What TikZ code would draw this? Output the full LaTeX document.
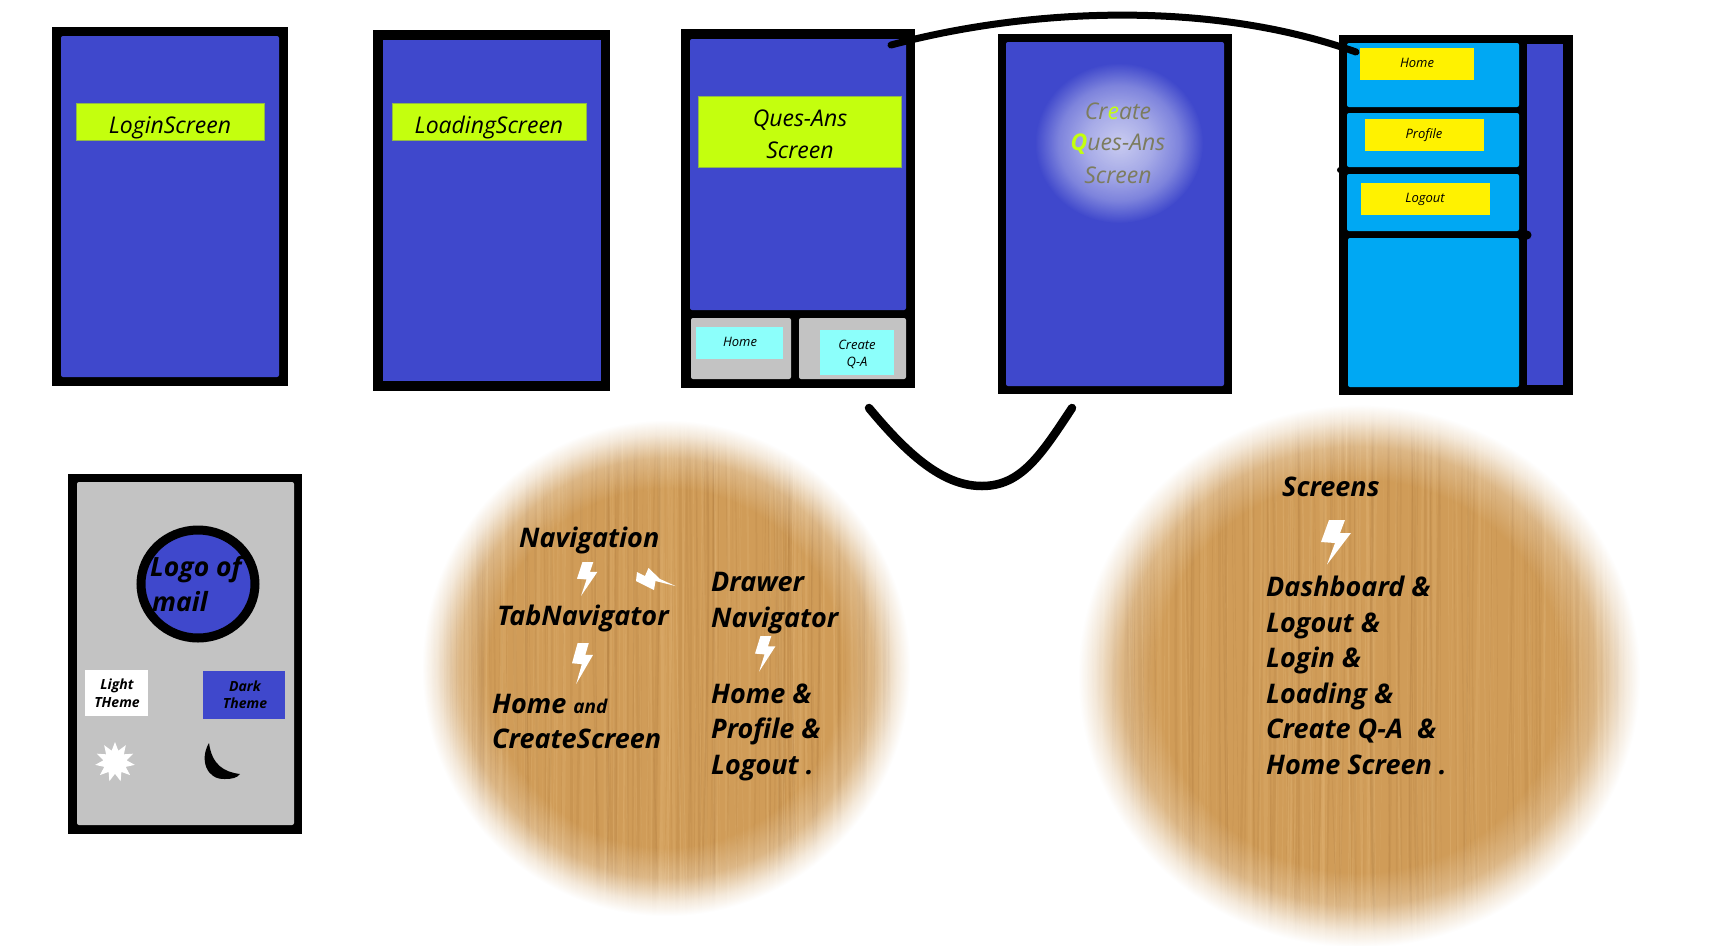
\documentclass[tikz,border=0pt]{standalone}
\usepackage{fontspec}
\setmainfont{Open Sans}
\usetikzlibrary{fadings,shapes.geometric}
\definecolor{indigoc}{HTML}{3F48CC}
\definecolor{limec}{HTML}{C4FF0E}
\definecolor{limeedge}{HTML}{8FB84A}
\definecolor{aquac}{HTML}{8CFFFB}
\definecolor{skyc}{HTML}{00A8F3}
\definecolor{yellowc}{HTML}{FFF200}
\definecolor{greyc}{HTML}{C3C3C3}
\definecolor{woodbase}{HTML}{D09C58}
\definecolor{woodlight}{HTML}{E6BA7C}
\definecolor{wooddark}{HTML}{AD7A3E}
\definecolor{ghostc}{HTML}{7C7C5E}
\pgfdeclareradialshading{ringshade}{\pgfpointorigin}{color(0bp)=(black); color(17.5bp)=(black); color(20.5bp)=(black!72!white); color(22.8bp)=(black!22!white); color(24.2bp)=(white); color(50bp)=(white)}
\pgfdeclarefading{ringfade}{\pgfuseshading{ringshade}}
\pgfdeclareradialshading{glowshade}{\pgfpointorigin}{color(0bp)=(white); color(10bp)=(black!25!white); color(18bp)=(black!55!white); color(25bp)=(black); color(50bp)=(black)}
\pgfdeclarefading{glowfade}{\pgfuseshading{glowshade}}
\tikzset{
  scr/.style={font=\fontsize{23}{23}\selectfont\itshape,inner sep=0pt},
  tiny/.style={font=\fontsize{13}{13}\selectfont\itshape,inner sep=0pt},
  thm/.style={font=\fontsize{14}{14}\selectfont\bfseries\itshape,inner sep=0pt},
  wlabel/.style={font=\fontsize{27}{27}\selectfont\bfseries\itshape,inner sep=0pt,anchor=base west},
  wiresty/.style={line width=7pt,line cap=round,black},
  labelbox/.style={fill=limec,draw=limeedge,line width=.8pt}
}
% x1 y1 x2 y2 name style
\newcommand\rectnode[6]{%
  \pgfmathsetmacro\rw{#3-#1}\pgfmathsetmacro\rh{#4-#2}%
  \pgfmathsetmacro\rx{(#1+#3)/2}\pgfmathsetmacro\ry{(#2+#4)/2}%
  \node[inner sep=0pt,outer sep=0pt,minimum width=\rw pt,minimum height=\rh pt,#6] (#5) at (\rx,\ry) {};}
\newcommand\woodblob[4]{%
  \begin{scope}
    \clip (#1,#2) ellipse [x radius=#3-4,y radius=#4-4];
    \fill[woodbase] (#1,#2) ellipse [x radius=#3,y radius=#4];
    \foreach \i in {1,...,260}{%
      \pgfmathsetmacro\gx{#1-#3+rnd*2*#3}%
      \pgfmathsetmacro\ga{\gx+rnd*14-7}%
      \pgfmathsetmacro\gb{\gx+rnd*14-7}%
      \pgfmathsetmacro\gc{\gx+rnd*10-5}%
      \pgfmathsetmacro\gw{0.3+rnd*rnd*4}%
      \ifodd\i\def\gcol{woodlight}\else\def\gcol{wooddark}\fi
      \draw[color=\gcol,line width=\gw pt,opacity=.2] (\gx,#2-#4) .. controls (\ga,#2-#4/3) and (\gb,#2+#4/3) .. (\gc,#2+#4);
    }
  \end{scope}
  \fill[white,path fading=ringfade,fit fading=true] (#1,#2) ellipse [x radius=#3+1,y radius=#4+1];}
\newcommand\boltat[4]{%
  \begin{scope}[shift={(#1,#2)},xscale=#3,yscale=#4]
    \fill[white] (8,0) -- (24,0) -- (19,13) -- (30,13) -- (6,44.5) -- (14,23) -- (0,22) -- cycle;
  \end{scope}}
\begin{document}
\begin{tikzpicture}[x=1pt,y=-1pt]
\useasboundingbox (0,0) rectangle (1731,945);
\pgfmathsetseed{4711}
% wood blobs
\woodblob{666}{668}{250}{254}
\woodblob{1359}{676}{288}{278}
% frame 1
\rectnode{52}{27}{288}{386}{f1}{fill=black}
\rectnode{61}{36}{279}{377}{f1in}{fill=indigoc,rounded corners=2pt}
\rectnode{76}{103}{264}{140}{f1lab}{labelbox}
\node[scr] (t1) at (170,128) {LoginScreen};
% frame 2
\rectnode{373}{30}{610}{391}{f2}{fill=black}
\rectnode{383}{40}{601}{381}{f2in}{fill=indigoc}
\rectnode{392}{103}{586}{140}{f2lab}{labelbox}
\node[scr] (t2) at (489,128) {LoadingScreen};
% frame 3
\rectnode{681}{29}{915}{388}{f3}{fill=black}
\rectnode{690}{39}{906}{310}{f3in}{fill=indigoc,rounded corners=2pt}
\rectnode{698}{96}{901}{167}{f3lab}{labelbox}
\node[scr] (t3a) at (800,120) {Ques-Ans};
\node[scr] (t3b) at (800,150) {Screen};
\rectnode{691}{318}{791}{379}{f3g1}{fill=greyc,rounded corners=2pt}
\rectnode{799}{318}{906}{379}{f3g2}{fill=greyc,rounded corners=2pt}
\rectnode{696}{327}{783}{359}{f3h}{fill=aquac}
\node[tiny] (t3h) at (740,342) {Home};
\rectnode{820}{330}{894}{375}{f3c}{fill=aquac}
\node[tiny] (t3c) at (857,345) {Create};
\node[tiny] (t3q) at (857,362.5) {Q-A};
% frame 4
\rectnode{998}{34}{1232}{394}{f4}{fill=black}
\rectnode{1006}{42}{1224}{386}{f4in}{fill=indigoc,rounded corners=2pt}
\fill[white,opacity=.72,path fading=glowfade,fit fading=true] (1119,143) ellipse [x radius=84,y radius=80];
\node[scr,text=ghostc] (t4a) at (1118,111) {Cr\textcolor{limec}{e}ate};
\node[scr,text=ghostc] (t4b) at (1118,144) {\textcolor{limec}{\textbf{Q}}ues-Ans};
\node[scr,text=ghostc] (t4c) at (1118,175) {Screen};
% frame 5
\rectnode{1339}{35}{1573}{395}{f5}{fill=black}
\rectnode{1347}{43}{1519}{107}{f5r1}{fill=skyc,rounded corners=2pt}
\rectnode{1347}{113}{1519}{167}{f5r2}{fill=skyc,rounded corners=2pt}
\rectnode{1347}{174}{1519}{231}{f5r3}{fill=skyc,rounded corners=2pt}
\rectnode{1348}{238}{1519}{387}{f5r4}{fill=skyc,rounded corners=2pt}
\rectnode{1527}{44}{1563}{385}{f5s}{fill=indigoc}
\rectnode{1360}{48}{1474}{80}{f5y1}{fill=yellowc}
\node[tiny] (t5a) at (1417,63) {Home};
\rectnode{1365}{119}{1484}{151}{f5y2}{fill=yellowc}
\node[tiny] (t5b) at (1424,135) {Profile};
\rectnode{1361}{183}{1490}{215}{f5y3}{fill=yellowc}
\node[tiny] (t5c) at (1425,199.5) {Logout};
\fill[black] (1519,107) rectangle (1527,113);
\fill[black] (1527,235) circle [radius=4.5];
\fill[black] (1340,170) circle [radius=3];
% connectors
\coordinate (c3top) at (891,45);
\coordinate (c5top) at (1356,52);
\draw[wiresty] (c3top) .. controls (1030,8) and (1210,0) .. (c5top);
\coordinate (c3bot) at (869,408);
\coordinate (cmid) at (982,486);
\coordinate (c4bot) at (1072,408);
\draw[wiresty,line width=8.5pt] (c3bot) .. controls (912,460) and (946,486) .. (cmid) .. controls (1021,486) and (1041,455) .. (c4bot);
% frame 6
\rectnode{68}{474}{302}{834}{f6}{fill=black}
\rectnode{77}{482}{294}{825}{f6in}{fill=greyc,rounded corners=2pt}
\node[draw=black,line width=9pt,fill=indigoc,ellipse,inner sep=0pt,minimum width=114pt,minimum height=108pt] (logo) at (198,584) {};
\node[inner sep=0pt,anchor=base west,font=\fontsize{26.5}{26.5}\selectfont\bfseries\itshape] (t6a) at (150,576) {Logo of};
\node[inner sep=0pt,anchor=base west,font=\fontsize{26.5}{26.5}\selectfont\bfseries\itshape] (t6b) at (152,611) {mail};
\rectnode{85}{670}{148}{716}{f6l}{fill=white}
\node[thm] (t6c) at (117,686) {Light};
\node[thm] (t6d) at (117,703) {THeme};
\rectnode{203}{671}{285}{719}{f6d}{fill=indigoc}
\node[thm] (t6e) at (245,686) {Dark};
\node[thm] (t6f) at (245,703) {Theme};
\node[star,star points=11,star point ratio=1.7,fill=white,inner sep=0pt,minimum size=40pt] (sun) at (115,762) {};
\fill[black] (209,743) .. controls (199,760) and (207,780) .. (225,779) .. controls (232,779) and (237,778) .. (240,774) .. controls (224,772) and (212,765) .. (209,743) -- cycle;
% wood left labels
\node[wlabel] (w1) at (519,547) {Navigation};
\node[wlabel] (w2) at (497,625) {TabNavigator};
\node[wlabel] (w3) at (492,713) {Home {\fontsize{19}{19}\selectfont and}};
\node[wlabel] (w4) at (492,748) {CreateScreen};
\node[wlabel] (w5) at (711,591) {Drawer};
\node[wlabel] (w6) at (711,627) {Navigator};
\node[wlabel] (w7) at (711,703) {Home \&};
\node[wlabel] (w8) at (711,738) {Profile \&};
\node[wlabel] (w9) at (711,774) {Logout .};
\boltat{577}{562}{.68}{.76}
\boltat{572}{643}{.7}{.92}
\boltat{755}{636}{.68}{.8}
\fill[white] (648.5,568) -- (660,579) -- (675.5,586) -- (655.5,581) -- (654,590) -- (636,581) -- (637,572) -- (645,576) -- cycle;
% wood right labels
\node[wlabel] (x0) at (1282,496) {Screens};
\boltat{1321}{520}{1}{1}
\node[wlabel] (x1) at (1266,596) {Dashboard \&};
\node[wlabel] (x2) at (1266,632) {Logout \&};
\node[wlabel] (x3) at (1266,667) {Login \&};
\node[wlabel] (x4) at (1266,703) {Loading \&};
\node[wlabel] (x5) at (1266,738) {Create Q-A\ \ \&};
\node[wlabel] (x6) at (1266,774) {Home Screen .};
\end{tikzpicture}
\end{document}
